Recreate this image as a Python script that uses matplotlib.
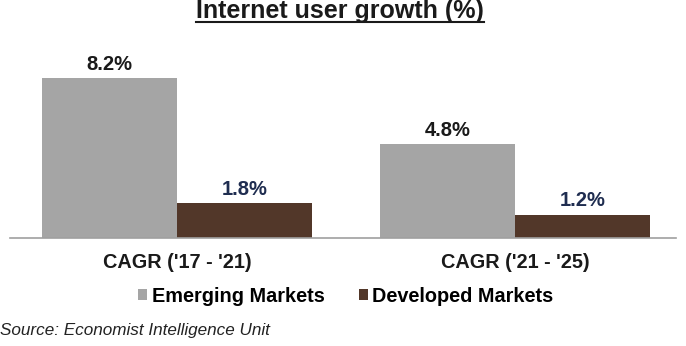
import matplotlib
matplotlib.use("Agg")
import matplotlib.pyplot as plt
import numpy as np

categories = ["CAGR ('17 - '21)", "CAGR ('21 - '25)"]
series_names = ["Emerging Markets", "Developed Markets"]
emerging = [8.2, 4.8]
developed = [1.8, 1.2]

c_emerging = "#a5a5a5"
c_developed = "#523729"
c_lbl_emerging = "#1a1a1a"
c_lbl_developed = "#1f2d50"

plt.rcParams["font.family"] = ["Liberation Sans", "DejaVu Sans"]

fig = plt.figure(figsize=(6.86, 3.46), dpi=100)
ax = fig.add_axes([10 / 686, (346 - 238) / 346, 666 / 686, (238 - 40) / 346])

x = np.arange(len(categories))
w = 0.4
b1 = ax.bar(x - w / 2, emerging, w, color=c_emerging, label=series_names[0])
b2 = ax.bar(x + w / 2, developed, w, color=c_developed, label=series_names[1])

for bars, vals, col in ((b1, emerging, c_lbl_emerging), (b2, developed, c_lbl_developed)):
    for rect, v in zip(bars, vals):
        ax.text(rect.get_x() + rect.get_width() / 2, v + 0.42, f"{v:.1f}%",
                ha="center", va="baseline", fontsize=14.5, fontweight="bold", color=col)

ax.set_xlim(-0.494, 1.476)
ax.set_ylim(0, (238 - 40) / 19.5)
for s in ["top", "right", "left"]:
    ax.spines[s].set_visible(False)
ax.spines["bottom"].set_color("#a0a0a0")
ax.spines["bottom"].set_linewidth(1.2)
ax.set_yticks([])
ax.set_xticks(x)
ax.set_xticklabels(categories, fontsize=14.3, fontweight="bold", color="#1a1a1a")
ax.tick_params(axis="x", length=0, pad=10.5)

fig.legend(handles=[b1, b2], labels=series_names, loc="center",
           bbox_to_anchor=(346 / 686, 1 - 296 / 346), ncol=2, frameon=False,
           prop={"size": 14.3, "weight": "bold"}, handlelength=0.42, handleheight=0.42,
           handletextpad=0.25, columnspacing=1.75, borderpad=0, borderaxespad=0)

title = fig.text(340 / 686, 1 - 18 / 346, "Internet user growth (%)", ha="center", va="baseline",
                 fontsize=18, fontweight="bold", color="#1a1a1a")
fig.text(0 / 686, 1 - 331 / 346, "Source: Economist Intelligence Unit", ha="left", va="center",
         fontsize=12.3, fontstyle="italic", color="#222222")

# underline the title, just below its baseline
fig.canvas.draw()
bb = title.get_window_extent().transformed(fig.transFigure.inverted())
y_ul = 1 - 21.5 / 346
fig.add_artist(plt.Line2D([bb.x0, bb.x1], [y_ul, y_ul],
                          transform=fig.transFigure, color="#1a1a1a", lw=1.5))

fig.savefig("out.png", dpi=100)
